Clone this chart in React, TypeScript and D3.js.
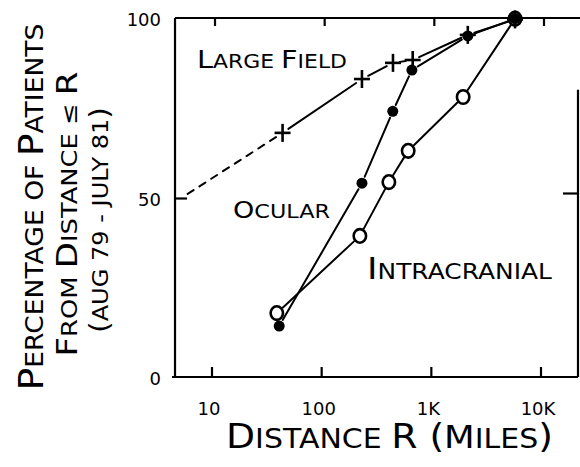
import React from "react";
import * as d3 from "d3";

const xTicks = [10, 100, 1000, 10000];
const xTickLabels = ["10", "100", "1K", "10K"];
const yTicks = [0, 50, 100];
const yTickLabels = ["0", "50", "100"];

const largeFieldX = [44, 233, 447, 676, 2150, 5800];
const largeFieldY = [68, 83, 87.5, 88.3, 95.3, 99.6];
const largeFieldDashX = [6.0, 44];
const largeFieldDashY = [51, 68];

const ocularX = [41, 233, 445, 665, 2150, 5800];
const ocularY = [14.2, 54, 74, 85.5, 95, 99.8];

const intraX = [39, 223, 410, 615, 1950, 5800];
const intraY = [17.8, 39.3, 54.3, 63, 78, 99.8];

const W = 580;
const H = 467;
const FONT = "'DejaVu Sans', sans-serif";

const x = d3.scaleLog().domain([10, 10000]).range([212, 541]);
const y = d3.scaleLinear().domain([0, 100]).range([377, 18]);

function trimmedSegments(xs: number[], ys: number[], gap: number) {
  const segs: [number, number, number, number][] = [];
  for (let i = 0; i < xs.length - 1; i++) {
    const x1 = x(xs[i]), y1 = y(ys[i]), x2 = x(xs[i + 1]), y2 = y(ys[i + 1]);
    const dx = x2 - x1, dy = y2 - y1;
    const len = Math.sqrt(dx * dx + dy * dy);
    if (len <= 2 * gap + 1) continue;
    const ux = dx / len, uy = dy / len;
    segs.push([x1 + ux * gap, y1 + uy * gap, x2 - ux * gap, y2 - uy * gap]);
  }
  return segs;
}

function Caps({ parts }: { parts: [string, number][] }) {
  return (
    <>
      {parts.map(([t, s], i) => (
        <tspan key={i} fontSize={s}>
          {t}
        </tspan>
      ))}
    </>
  );
}

export default function App() {
  const lfSegs = trimmedSegments(largeFieldX, largeFieldY, 7);
  const ocSegs = trimmedSegments(ocularX, ocularY, 7);
  const inSegs = trimmedSegments(intraX, intraY, 8);
  const dashLine = d3
    .line<number>()
    .x((_, i) => x(largeFieldDashX[i]))
    .y((_, i) => y(largeFieldDashY[i]))(largeFieldDashX.map((v) => v));

  const left = x(4.6);
  const right = 578;
  return (
    <svg
      width={W}
      height={H}
      style={{ position: "absolute", left: 0, top: 0, background: "#fff" }}
      fontFamily={FONT}
    >
      <rect width={W} height={H} fill="#fff" />
      {/* frame */}
      <g stroke="#000" strokeWidth={2.2} fill="none">
        <line x1={left} y1={y(100)} x2={W} y2={y(100)} />
        <line x1={left} y1={y(100)} x2={left} y2={y(0)} />
        <line x1={left - 3} y1={y(0)} x2={right} y2={y(0)} />
        <line x1={right} y1={y(80)} x2={right} y2={y(0)} />
        {xTicks.map((t) => (
          <g key={t}>
            <line x1={x(t)} y1={y(0)} x2={x(t)} y2={y(0) - 10} />
            <line x1={x(t) + 3} y1={y(100)} x2={x(t) + 3} y2={y(100) + 8} />
          </g>
        ))}
        <line x1={right} y1={y(50) - 4} x2={right - 15} y2={y(50) - 4} />
        <line x1={left} y1={y(50) + 1} x2={left + 12} y2={y(50) + 1} />
      </g>
      {/* tick labels */}
      <g fontSize={18} fill="#000">
        {xTicks.map((t, i) => (
          <text key={t} x={x(t) - 3} y={y(0) + 38} textAnchor="middle">
            {xTickLabels[i]}
          </text>
        ))}
        {yTicks.map((t, i) => (
          <text key={t} x={161} y={y(t) + 8} textAnchor="end">
            {yTickLabels[i]}
          </text>
        ))}
      </g>
      {/* lines */}
      <g stroke="#000" strokeWidth={2} fill="none" strokeLinecap="round">
        {[...lfSegs, ...ocSegs, ...inSegs].map((s, i) => (
          <line key={i} x1={s[0]} y1={s[1]} x2={s[2]} y2={s[3]} />
        ))}
        <path d={dashLine || ""} strokeDasharray="7,7" />
      </g>
      {/* intracranial open circles */}
      <g stroke="#000" strokeWidth={2.6} fill="#fff">
        {intraX.map((v, i) => (
          <ellipse key={i} cx={x(v)} cy={y(intraY[i])} rx={6.2} ry={6.8} />
        ))}
      </g>
      {/* ocular filled circles */}
      <g fill="#000">
        {ocularX.map((v, i) => (
          <circle key={i} cx={x(v)} cy={y(ocularY[i])} r={5.5} />
        ))}
      </g>
      {/* large field plus */}
      <g stroke="#000" strokeWidth={2.6}>
        {largeFieldX.map((v, i) => (
          <g key={i}>
            <line x1={x(v) - 8} y1={y(largeFieldY[i])} x2={x(v) + 8} y2={y(largeFieldY[i])} />
            <line x1={x(v)} y1={y(largeFieldY[i]) - 9} x2={x(v)} y2={y(largeFieldY[i]) + 9} />
          </g>
        ))}
      </g>
      {/* series labels */}
      <g fill="#000">
        <text x={197} y={68} textLength={150} lengthAdjust="spacingAndGlyphs">
          <Caps parts={[["L", 25], ["ARGE ", 19], ["F", 25], ["IELD", 19]]} />
        </text>
        <text x={233} y={218} textLength={97} lengthAdjust="spacingAndGlyphs">
          <Caps parts={[["O", 23], ["CULAR", 19]]} />
        </text>
        <text x={367} y={279} textLength={185} lengthAdjust="spacingAndGlyphs">
          <Caps parts={[["I", 30], ["NTRACRANIAL", 21]]} />
        </text>
      </g>
      {/* x axis title */}
      <text x={226} y={448} textLength={327} lengthAdjust="spacingAndGlyphs" fill="#000">
        <Caps parts={[["D", 34], ["ISTANCE ", 27], ["R ", 34], ["(", 34], ["M", 32], ["ILES", 27], [")", 34]]} />
      </text>
      {/* y axis title */}
      <g fill="#000">
        <text
          transform="translate(43,207) rotate(-90)"
          textAnchor="middle"
          textLength={367}
          lengthAdjust="spacingAndGlyphs"
        >
          <Caps parts={[["P", 34], ["ERCENTAGE OF ", 24], ["P", 34], ["ATIENTS", 24]]} />
        </text>
        <text
          transform="translate(77,214) rotate(-90)"
          textAnchor="middle"
          textLength={285}
          lengthAdjust="spacingAndGlyphs"
        >
          <Caps parts={[["F", 29], ["ROM ", 22], ["D", 29], ["ISTANCE ≤ ", 22], ["R", 29]]} />
        </text>
        <text
          transform="translate(108,220) rotate(-90)"
          textAnchor="middle"
          textLength={226}
          lengthAdjust="spacingAndGlyphs"
        >
          <Caps parts={[["(", 26], ["AUG 79 - JULY 81", 21], [")", 26]]} />
        </text>
      </g>
    </svg>
  );
}
